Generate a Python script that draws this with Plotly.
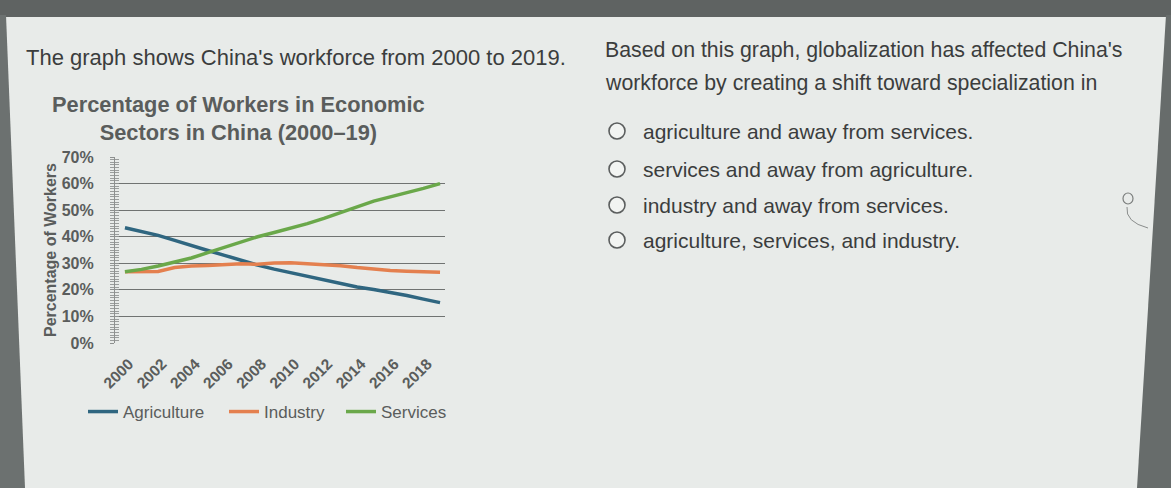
import plotly.graph_objects as go

W, H = 1171, 488

years = list(range(2000, 2020))
agriculture = [43.4, 42.0, 40.5, 38.6, 36.6, 34.8, 33.0, 31.0, 29.3, 27.8,
               26.5, 25.2, 23.6, 22.4, 21.1, 20.1, 19.1, 17.9, 16.5, 15.2]
industry = [26.8, 26.8, 26.9, 28.4, 29.0, 29.2, 29.4, 29.8, 29.6, 30.1,
            30.2, 29.9, 29.5, 29.1, 28.4, 27.7, 27.3, 27.0, 26.8, 26.6]
services = [26.8, 27.7, 29.0, 30.5, 32.0, 34.0, 36.0, 38.2, 40.0, 41.6,
            43.2, 44.9, 46.9, 49.0, 51.2, 53.4, 55.0, 56.5, 58.2, 60.0]

y_ticks = [0, 10, 20, 30, 40, 50, 60, 70]
x_ticks = list(range(2000, 2019, 2))

question_intro = "The graph shows China's workforce from 2000 to 2019."
chart_title = ["Percentage of Workers in Economic", "Sectors in China (2000\u201319)"]
y_title = "Percentage of Workers"
question_lines = ["Based on this graph, globalization has affected China's",
                  "workforce by creating a shift toward specialization in"]
options = ["agriculture and away from services.",
           "services and away from agriculture.",
           "industry and away from services.",
           "agriculture, services, and industry."]

COL_AG = "#2f6680"
COL_IN = "#e4804f"
COL_SV = "#6aa84a"
FONT = "Liberation Sans, Arial, sans-serif"
CHART_TXT = "#5a5d5c"
TXT = "#3b3d3d"


def px(x):
    return x / W


def py(y):
    return 1 - y / H


fig = go.Figure()
series = [("Agriculture", agriculture, COL_AG, "legend"),
          ("Industry", industry, COL_IN, "legend2"),
          ("Services", services, COL_SV, "legend3")]
for name, vals, col, lg in series:
    fig.add_trace(go.Scatter(x=years, y=vals, mode="lines", name=name, legend=lg,
                             line=dict(color=col, width=3.5)))

# invisible trace to drive the inside-ticks axis
fig.add_trace(go.Scatter(x=[years[0]], y=[0], yaxis="y2", mode="markers",
                         marker=dict(opacity=0), showlegend=False, hoverinfo="skip"))

shapes = []
# dark screen borders (photo frame)
shapes.append(dict(type="path", xref="paper", yref="paper",
                   path=f"M 0 1 L 1 1 L 1 {py(17)} L 0 {py(17)} Z",
                   fillcolor="#5f6362", line=dict(width=0), layer="below"))
shapes.append(dict(type="path", xref="paper", yref="paper",
                   path=f"M 0 {py(15)} L {px(6)} {py(15)} L {px(25)} 0 L 0 0 Z",
                   fillcolor="#6c7170", line=dict(width=0), layer="below"))
shapes.append(dict(type="path", xref="paper", yref="paper",
                   path=f"M {px(1166)} {py(15)} L 1 {py(15)} L 1 0 L {px(1137)} 0 Z",
                   fillcolor="#676c6b", line=dict(width=0), layer="below"))

# radio circles
opt_y = [131, 169, 205, 240]
for yy in opt_y:
    shapes.append(dict(type="circle", xref="paper", yref="paper",
                       x0=px(609), x1=px(625), y0=py(yy + 8), y1=py(yy - 8),
                       line=dict(color="#5b5e5e", width=1.6), fillcolor="#f2f4f2"))

# small pen mark
shapes.append(dict(type="circle", xref="paper", yref="paper",
                   x0=px(1123), x1=px(1133), y0=py(204), y1=py(193),
                   line=dict(color="#7a7d7c", width=1.2)))
shapes.append(dict(type="path", xref="paper", yref="paper",
                   path=f"M {px(1127)} {py(207)} Q {px(1125)} {py(222)} {px(1148)} {py(228)}",
                   line=dict(color="#8a8d8c", width=1)))

annotations = []
annotations.append(dict(text=question_intro, x=px(24), y=py(58), xref="paper", yref="paper",
                        xanchor="left", yanchor="middle", showarrow=False,
                        font=dict(family=FONT, size=22, color=TXT)))
annotations.append(dict(text="<br>".join(f"<b>{t}</b>" for t in chart_title),
                        x=px(239), y=py(118), xref="paper", yref="paper",
                        xanchor="center", yanchor="middle", showarrow=False, align="center",
                        font=dict(family=FONT, size=21.8, color=CHART_TXT)))
annotations.append(dict(text=f"<b>{y_title}</b>", x=px(51), y=py(250), xref="paper", yref="paper",
                        xanchor="center", yanchor="middle", showarrow=False, textangle=-90,
                        font=dict(family=FONT, size=16, color=CHART_TXT)))
for i, t in enumerate(question_lines):
    annotations.append(dict(text=t, x=px(603), y=py(50 + 33 * i), xref="paper", yref="paper",
                            xanchor="left", yanchor="middle", showarrow=False,
                            font=dict(family=FONT, size=21.3, color=TXT)))
for t, yy in zip(options, opt_y):
    annotations.append(dict(text=t, x=px(641), y=py(yy), xref="paper", yref="paper",
                            xanchor="left", yanchor="middle", showarrow=False,
                            font=dict(family=FONT, size=21, color=TXT)))

x_dom = [px(115), px(445)]
y_dom = [py(343), py(157)]


def legend_at(xpix):
    return dict(orientation="h", x=px(xpix), y=py(412), xanchor="left", yanchor="middle",
                font=dict(family=FONT, size=17, color=CHART_TXT),
                bgcolor="rgba(0,0,0,0)", itemwidth=30)


fig.update_layout(
    width=W, height=H,
    margin=dict(l=0, r=0, t=0, b=0, pad=0, autoexpand=False),
    paper_bgcolor="#e8ebe9",
    plot_bgcolor="rgba(0,0,0,0)",
    showlegend=True,
    legend=legend_at(83),
    legend2=legend_at(224),
    legend3=legend_at(341),
    xaxis=dict(domain=x_dom, range=[1999.4, 2019.3], tickvals=x_ticks,
               ticktext=[f"<b>{v}</b>" for v in x_ticks], tickangle=-45, showgrid=False,
               zeroline=False, showline=False, ticks="", automargin=False,
               ticklabelstandoff=8, ticklabelshift=4,
               tickfont=dict(family=FONT, size=15.5, color=CHART_TXT)),
    yaxis=dict(domain=y_dom, range=[0, 70], tickvals=y_ticks,
               ticktext=[f"<b>{v}%</b>" for v in y_ticks],
               showgrid=True, gridcolor="#707372", gridwidth=1.4,
               zeroline=False, showline=True, linecolor="#8d908f", linewidth=1.2,
               ticks="outside", ticklen=4, tickcolor="#8d908f", automargin=False,
               minor=dict(dtick=1, ticks="outside", ticklen=3.5, tickcolor="#9a9d9c", showgrid=False),
               ticklabelstandoff=13,
               tickfont=dict(family=FONT, size=16, color=CHART_TXT)),
    yaxis2=dict(domain=y_dom, range=[0, 70], overlaying="y", side="left", anchor="x",
                showgrid=False, zeroline=False, showticklabels=False, showline=False,
                tickvals=y_ticks, ticks="inside", ticklen=4, tickcolor="#8d908f",
                automargin=False,
                minor=dict(dtick=1, ticks="inside", ticklen=3.5, tickcolor="#9a9d9c", showgrid=False)),
    shapes=shapes,
    annotations=annotations,
)

fig.write_html("out.html", config={"displayModeBar": False},
               post_script="document.body.style.margin='0';")
